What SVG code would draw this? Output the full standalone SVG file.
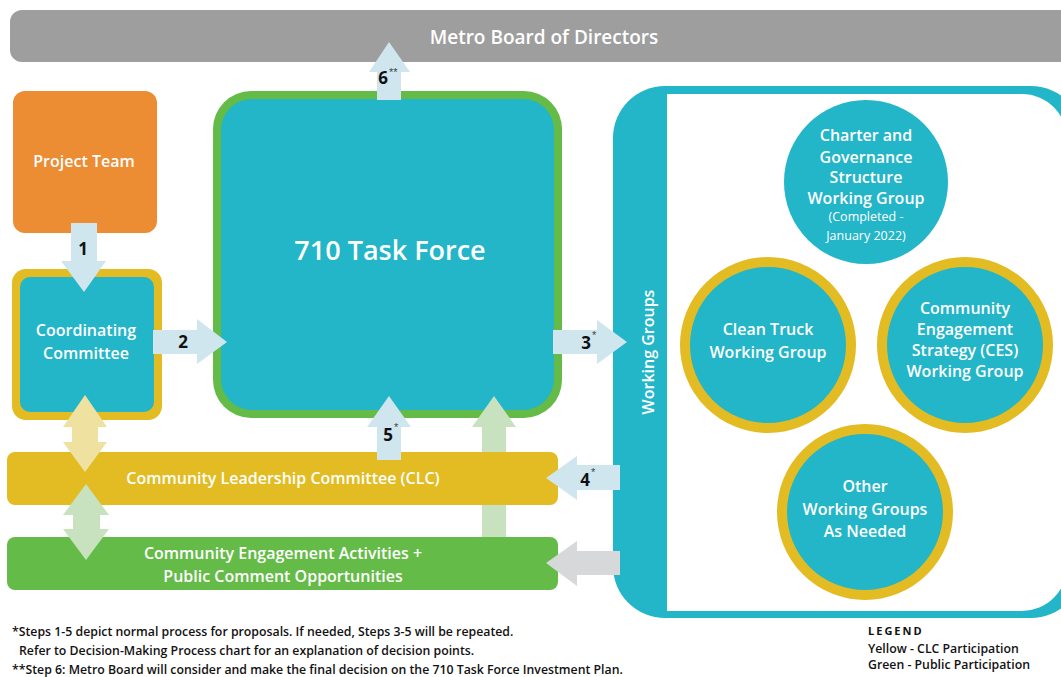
<svg xmlns="http://www.w3.org/2000/svg" width="1061" height="677" viewBox="0 0 1061 677">
<style>
.lbl{font-family:"Open Sans","Liberation Sans",sans-serif;font-weight:600;fill:#ffffff;text-anchor:middle}
.num{font-family:"Open Sans","Liberation Sans",sans-serif;font-weight:700;fill:#111111;font-size:17px;text-anchor:middle}
.ast{font-family:"Liberation Sans",sans-serif;fill:#444444;font-size:11px}
.foot{font-family:"Open Sans","Liberation Sans",sans-serif;font-weight:600;fill:#111111;font-size:12.3px}
.teal{fill:#23b5c8}
.blue{fill:#cfe6ee}
</style>
<rect width="1061" height="677" fill="#ffffff"/>
<g id="metro-board">
<rect x="10" y="10" width="1075" height="52" rx="12" fill="#9e9e9e"/>
<text class="lbl" x="544" y="44" font-size="19">Metro Board of Directors</text>
</g>
<g id="project-team">
<rect x="13" y="91" width="144" height="142" rx="12" fill="#ec8c33"/>
<text class="lbl" x="84" y="167" font-size="16">Project Team</text>
</g>
<g id="coordinating-committee">
<rect x="12" y="269" width="150" height="151" rx="14" fill="#e2bc22"/>
<rect x="20" y="277" width="134" height="135" rx="10" class="teal"/>
<text class="lbl" x="86" y="336" font-size="16">Coordinating</text>
<text class="lbl" x="86" y="359" font-size="16">Committee</text>
</g>
<g id="task-force">
<rect x="213" y="91" width="349" height="327" rx="38" fill="#65bb47"/>
<rect x="221" y="99" width="333" height="311" rx="31" class="teal"/>
<text class="lbl" x="390" y="260" font-size="27">710 Task Force</text>
</g>
<g id="working-groups">
<rect x="613" y="86" width="470" height="532" rx="52" class="teal"/>
<path d="M667 94 H1022 A45 45 0 0 1 1067 139 V566 A45 45 0 0 1 1022 611 H667 Z" fill="#ffffff"/>
<text class="lbl" x="654" y="352" font-size="16" transform="rotate(-90 654 352)">Working Groups</text>
</g>
<g id="wg-charter">
<circle cx="866" cy="182" r="82" class="teal"/>
<text class="lbl" x="866" y="141" font-size="16">Charter and</text>
<text class="lbl" x="866" y="163" font-size="16">Governance</text>
<text class="lbl" x="866" y="183" font-size="16">Structure</text>
<text class="lbl" x="866" y="204" font-size="16">Working Group</text>
<text class="lbl" x="866" y="221" font-size="12.5" style="font-weight:400">(Completed -</text>
<text class="lbl" x="866" y="240" font-size="12.5" style="font-weight:400">January 2022)</text>
</g>
<g id="wg-clean-truck">
<circle cx="768" cy="345" r="83" class="teal" stroke="#e2bc22" stroke-width="10"/>
<text class="lbl" x="768" y="335" font-size="16">Clean Truck</text>
<text class="lbl" x="768" y="358" font-size="16">Working Group</text>
</g>
<g id="wg-ces">
<circle cx="965" cy="345" r="83" class="teal" stroke="#e2bc22" stroke-width="10"/>
<text class="lbl" x="965" y="314" font-size="16">Community</text>
<text class="lbl" x="965" y="335" font-size="16">Engagement</text>
<text class="lbl" x="965" y="356" font-size="16">Strategy (CES)</text>
<text class="lbl" x="965" y="377" font-size="16">Working Group</text>
</g>
<g id="wg-other">
<circle cx="865" cy="512" r="83" class="teal" stroke="#e2bc22" stroke-width="10"/>
<text class="lbl" x="865" y="492" font-size="16">Other</text>
<text class="lbl" x="865" y="515" font-size="16">Working Groups</text>
<text class="lbl" x="865" y="537" font-size="16">As Needed</text>
</g>
<g id="clc">
<rect x="7" y="452" width="551" height="53" rx="8" fill="#e2bc22"/>
<text class="lbl" x="283" y="484" font-size="16">Community Leadership Committee (CLC)</text>
</g>
<g id="community-engagement">
<rect x="7" y="537" width="551" height="53" rx="8" fill="#65bb47"/>
<text class="lbl" x="283" y="559" font-size="16">Community Engagement Activities +</text>
<text class="lbl" x="283" y="582" font-size="16">Public Comment Opportunities</text>
</g>
<g id="connectors">
<path d="M482 505 H506 V537 H482 Z M482 452 V427 H472 L494 396 L516 427 H506 V452 Z" fill="#c8e2c0"/>
<polygon points="85,395 107,427 98,427 98,442 107,442 85,472 63,442 72,442 72,427 63,427" fill="#efe1a0"/>
<polygon points="86,484 109,515 100,515 100,529 109,529 86,560 63,529 73,529 73,515 63,515" fill="#c8e2c0"/>
<polygon class="blue" points="71,223 97,223 97,261 106,261 84,292 61,261 71,261"/>
<polygon class="blue" points="153,330 197,330 197,319 227,342 197,364 197,354 153,354"/>
<polygon class="blue" points="553,330 597,330 597,320 627,342 597,364 597,354 553,354"/>
<polygon class="blue" points="620,465 577,465 577,456 546,478 577,500 577,490 620,490"/>
<polygon fill="#d6d8da" points="620,551 577,551 577,541 546,563 577,586 577,575 620,575"/>
<polygon class="blue" points="377,460 377,427 367,427 389,396 411,427 401,427 401,460"/>
<polygon class="blue" points="377,100 377,72 369,72 389,42 410,72 401,72 401,100"/>
<text class="num" x="83" y="255">1</text>
<text class="num" x="183" y="348">2</text>
<text class="num" x="586" y="349">3</text><text class="ast" x="592" y="339">*</text>
<text class="num" x="585" y="486">4</text><text class="ast" x="591" y="476">*</text>
<text class="num" x="388" y="441">5</text><text class="ast" x="394" y="431">*</text>
<text class="num" x="383" y="84">6</text><text class="ast" x="389" y="76">**</text>
</g>
<g id="footnotes">
<text class="foot" x="12" y="636">*Steps 1-5 depict normal process for proposals. If needed, Steps 3-5 will be repeated.</text>
<text class="foot" x="19" y="655">Refer to Decision-Making Process chart for an explanation of decision points.</text>
<text class="foot" x="12" y="674">**Step 6: Metro Board will consider and make the final decision on the 710 Task Force Investment Plan.</text>
</g>
<g id="legend">
<text class="foot" x="868" y="635" style="font-size:11px;font-weight:700;letter-spacing:2px">LEGEND</text>
<text class="foot" x="868" y="653">Yellow - CLC Participation</text>
<text class="foot" x="868" y="669">Green - Public Participation</text>
</g>
</svg>
